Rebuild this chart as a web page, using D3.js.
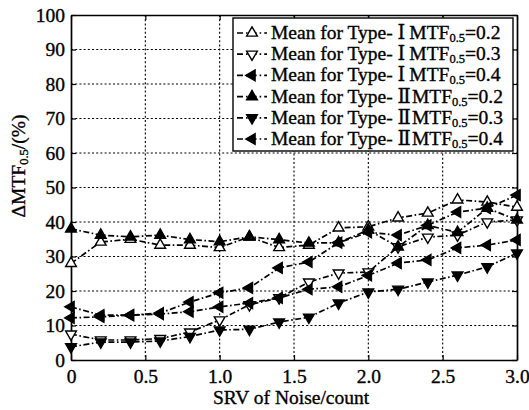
<!DOCTYPE html>
<html>
<head>
<meta charset="utf-8">
<script src="https://cdn.jsdelivr.net/npm/d3@7/dist/d3.min.js"></script>
<style>
  body { margin: 0; background: #fff; }
  text { font-family: "Liberation Serif", "DejaVu Serif", "Times New Roman", serif; fill: #000; stroke: #000; stroke-width: 0.35px; }
</style>
</head>
<body>
<div id="chart"></div>
<script>
// SRV of noise (count)
const srv = [0, 0.2, 0.4, 0.6, 0.8, 1.0, 1.2, 1.4, 1.6, 1.8, 2.0, 2.2, 2.4, 2.6, 2.8, 3.0];

// delta MTF0.5 (%)
const typeI_02  = [28, 34.2, 35, 33.3, 33.3, 32.6, 35.7, 32.6, 33.3, 38.3, 38.6, 41.2, 42.6, 46.4, 45.8, 44.3];
const typeI_03  = [7.5, 5.8, 5.8, 6.2, 8.1, 11.6, 16, 18, 22.6, 25.2, 25.5, 32.8, 35.6, 36.2, 40, 40.6];
const typeI_04  = [15.4, 13, 13, 13.6, 16.8, 19.5, 20.9, 26.7, 28.4, 34, 37, 36.2, 39, 42.9, 44, 47.8];
const typeII_02 = [38, 36.2, 35.7, 36.2, 34.9, 34.3, 35.7, 34.9, 33.9, 34, 37.7, 32.8, 39, 37, 44, 40.6];
const typeII_03 = [3.8, 5.2, 5.2, 5.5, 6.8, 8.7, 8.9, 11, 12.4, 16.5, 19.7, 20.5, 22.6, 24.6, 27, 31];
const typeII_04 = [12.2, 12.5, 13, 13.3, 14, 15.4, 16.5, 18, 20.5, 21.2, 24.5, 28.1, 29, 32.5, 33.3, 34.8];

const xTicks = [0, 0.5, 1.0, 1.5, 2.0, 2.5, 3.0];
const yTicks = [0, 10, 20, 30, 40, 50, 60, 70, 80, 90, 100];

const seriesTypes = ['Ⅰ', 'Ⅰ', 'Ⅰ', 'Ⅱ', 'Ⅱ', 'Ⅱ'];
const seriesMtf = ['0.2', '0.3', '0.4', '0.2', '0.3', '0.4'];

const series = [
  { values: typeI_02, rot: 0, hollow: true },
  { values: typeI_03, rot: 180, hollow: true },
  { values: typeI_04, rot: -90, hollow: false },
  { values: typeII_02, rot: 0, hollow: false },
  { values: typeII_03, rot: 180, hollow: false },
  { values: typeII_04, rot: -90, hollow: false }
].map((s, i) => ({ ...s, type: seriesTypes[i], mtf: seriesMtf[i] }));

const width = 529;
const height = 410;
const plot = { left: 71, right: 517, top: 15, bottom: 360 };
const serif = '"Liberation Serif", "DejaVu Serif", serif';

const svg = d3.select('#chart')
  .append('svg')
  .attr('width', width)
  .attr('height', height)
  .attr('font-family', serif);

const x = d3.scaleLinear().domain([0, 3]).range([plot.left, plot.right]);
const y = d3.scaleLinear().domain([0, 100]).range([plot.bottom, plot.top]);

// dotted grid
const grid = svg.append('g').attr('stroke', '#000').attr('stroke-width', 1.1).attr('stroke-dasharray', '2,2.2');
grid.selectAll('.gx')
  .data(xTicks.filter(d => d > 0 && d < 3))
  .join('line')
  .attr('x1', d => x(d)).attr('x2', d => x(d))
  .attr('y1', plot.top).attr('y2', plot.bottom);
grid.selectAll('.gy')
  .data(yTicks.filter(d => d > 0 && d < 100))
  .join('line')
  .attr('y1', d => y(d)).attr('y2', d => y(d))
  .attr('x1', plot.left).attr('x2', plot.right);

// axes with inward ticks
const fmtX = d => (d === 0 ? '0' : d.toFixed(1));
const axB = svg.append('g')
  .attr('transform', `translate(0, ${plot.bottom})`)
  .call(d3.axisBottom(x).tickValues(xTicks).tickFormat(fmtX).tickSizeInner(-5).tickSizeOuter(0).tickPadding(9));
const axL = svg.append('g')
  .attr('transform', `translate(${plot.left}, 0)`)
  .call(d3.axisLeft(y).tickValues(yTicks).tickSizeInner(-5).tickSizeOuter(0).tickPadding(6));
const axT = svg.append('g')
  .attr('transform', `translate(0, ${plot.top})`)
  .call(d3.axisTop(x).tickValues(xTicks).tickFormat('').tickSizeInner(-5).tickSizeOuter(0));
const axR = svg.append('g')
  .attr('transform', `translate(${plot.right}, 0)`)
  .call(d3.axisRight(y).tickValues(yTicks).tickFormat('').tickSizeInner(-5).tickSizeOuter(0));

[axB, axL, axT, axR].forEach(a => {
  a.attr('font-family', serif);
  a.select('.domain').attr('stroke', '#000').attr('stroke-width', 1.7);
  a.selectAll('.tick line').attr('stroke', '#000').attr('stroke-width', 1.2);
  a.selectAll('.tick text').attr('font-size', 19.5).attr('fill', '#000');
});

// lines
const line = d3.line().x((d, i) => x(srv[i])).y(d => y(d));
const symbol = d3.symbol().type(d3.symbolTriangle).size(50);
const dash = '6,2.5,1.6,2.5';

const gSeries = svg.append('g');
series.forEach(s => {
  gSeries.append('path')
    .attr('d', line(s.values))
    .attr('fill', 'none')
    .attr('stroke', '#000')
    .attr('stroke-width', 1.7)
    .attr('stroke-dasharray', dash);
});
series.forEach(s => {
  gSeries.append('g')
    .selectAll('path')
    .data(s.values)
    .join('path')
    .attr('d', symbol)
    .attr('transform', (d, i) => `translate(${x(srv[i])}, ${y(d)}) rotate(${s.rot})`)
    .attr('fill', s.hollow ? '#fff' : '#000')
    .attr('stroke', '#000')
    .attr('stroke-width', 1.4);
});

// legend
const lg = svg.append('g');
const lgBox = { x: 233, y: 18, w: 280, h: 133 };
lg.append('rect')
  .attr('x', lgBox.x).attr('y', lgBox.y)
  .attr('width', lgBox.w).attr('height', lgBox.h)
  .attr('fill', '#fff').attr('stroke', '#000').attr('stroke-width', 1.4);

const rowY = d3.scaleLinear().domain([0, 5]).range([lgBox.y + 15, lgBox.y + 121]);
series.forEach((s, i) => {
  const cy = rowY(i);
  lg.append('line')
    .attr('x1', 237).attr('x2', 267)
    .attr('y1', cy).attr('y2', cy)
    .attr('stroke', '#000').attr('stroke-width', 1.7)
    .attr('stroke-dasharray', '6,3,1.6,3');
  lg.append('path')
    .attr('d', symbol())
    .attr('transform', `translate(252, ${cy}) rotate(${s.rot})`)
    .attr('fill', s.hollow ? '#fff' : '#000')
    .attr('stroke', '#000').attr('stroke-width', 1.4);
  const t = lg.append('text')
    .attr('x', 271).attr('y', cy + 6)
    .attr('font-size', 19.5);
  t.append('tspan').text(`Mean for Type- ${s.type}`);
  t.append('tspan').attr('dx', s.type === 'Ⅰ' ? 4 : 1).text('MTF');
  t.append('tspan').attr('font-size', 12.5).attr('dy', 3).text('0.5');
  t.append('tspan').attr('dy', -3).text(`=${s.mtf}`);
});

// axis titles
svg.append('text')
  .attr('x', 291)
  .attr('y', 404)
  .attr('text-anchor', 'middle')
  .attr('font-size', 19.5)
  .text('SRV of Noise/count');

const yl = svg.append('text')
  .attr('transform', `translate(25, 166) rotate(-90)`)
  .attr('text-anchor', 'middle')
  .attr('font-size', 19.5);
yl.append('tspan').text('ΔMTF');
yl.append('tspan').attr('font-size', 12.5).attr('dy', 3).text('0.5');
yl.append('tspan').attr('dy', -3).text('/(%)');
</script>
</body>
</html>
